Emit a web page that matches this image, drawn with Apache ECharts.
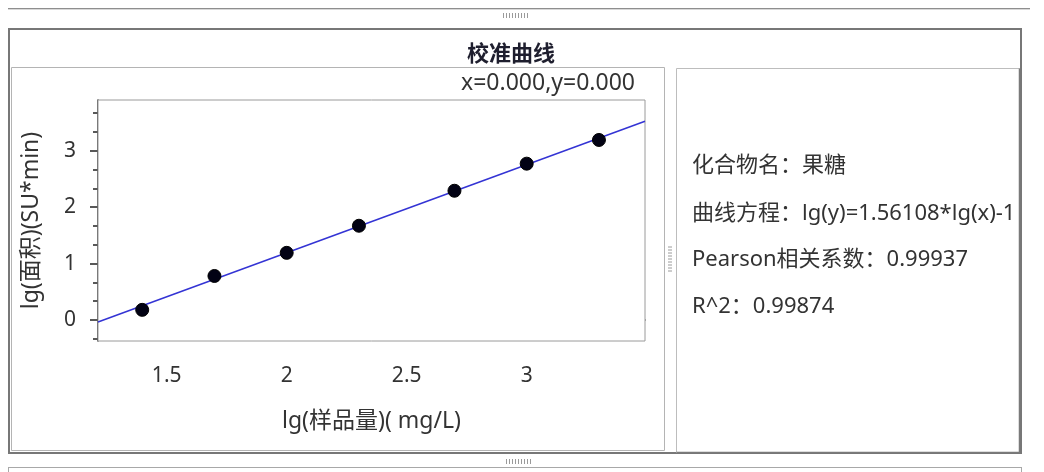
<!DOCTYPE html>
<html>
<head>
<meta charset="utf-8">
<script src="https://cdn.jsdelivr.net/npm/echarts@6/dist/echarts.min.js"></script>
<style>
  html, body { margin: 0; padding: 0; background: #ffffff; }
  #main { width: 1044px; height: 472px; }
</style>
</head>
<body>
<div id="main"></div>
<script>
// Calibration data: lg(sample amount) vs lg(peak area)
const lgAmount = [1.398, 1.699, 2.0, 2.301, 2.699, 3.0, 3.301];
const lgArea   = [0.18, 0.78, 1.19, 1.67, 2.29, 2.77, 3.19];

// Fitted line lg(y) = slope * lg(x) + intercept
const slope = 1.56108;
const intercept = -1.93;

// Axis extents and tick positions
const xRange = [1.2138, 3.4929];
const yRange = [-0.372, 3.898];
const xMajorTicks = [1.5, 2, 2.5, 3];
const xMinorTicks = [1.3, 1.4, 1.6, 1.7, 1.8, 1.9, 2.1, 2.2, 2.3, 2.4, 2.6, 2.7, 2.8, 2.9, 3.1, 3.2, 3.3, 3.4];
const yMajorTicks = [0, 1, 2, 3];
const yMinorTicks = [-1/3, 1/3, 2/3, 4/3, 5/3, 7/3, 8/3, 10/3, 11/3];

// Texts
const chartTitle = '校准曲线';
const cursorText = 'x=0.000,y=0.000';
const xAxisName = 'lg(样品量)( mg/L)';
const yAxisName = 'lg(面积)(SU*min)';
const infoLines = [
  '化合物名：果糖',
  '曲线方程：lg(y)=1.56108*lg(x)-1',
  'Pearson相关系数：0.99937',
  'R^2：0.99874'
];

const FONT = '"Noto Sans", "Noto Sans CJK SC", sans-serif';
const TEXT_COLOR = '#333333';

const points = lgAmount.map((x, i) => [x, lgArea[i]]);
const fitLine = xRange.map(x => [x, slope * x + intercept]);

// Small dotted splitter grip
function grip(x, y, n, vertical) {
  const items = [];
  for (let i = 0; i < n; i++) {
    items.push({
      type: 'line',
      silent: true,
      shape: vertical
        ? { x1: x, y1: y + i * 3, x2: x + 4, y2: y + i * 3 }
        : { x1: x + i * 3, y1: y, x2: x + i * 3, y2: y + 5 },
      style: { stroke: '#9a9a9a', lineWidth: 1 }
    });
  }
  return items;
}

const frame = [
  // top splitter line
  { type: 'line', shape: { x1: 8, y1: 8.5, x2: 1030, y2: 8.5 }, style: { stroke: '#8e8e8e', lineWidth: 1 } },
  { type: 'line', shape: { x1: 8, y1: 9.5, x2: 1030, y2: 9.5 }, style: { stroke: '#d8d8d8', lineWidth: 1 } },
  ...grip(503.5, 13, 9, false),
  // outer group box
  { type: 'rect', shape: { x: 9, y: 29, width: 1012, height: 424 }, style: { fill: '#ffffff', stroke: '#777777', lineWidth: 2 } },
  // chart panel
  { type: 'rect', shape: { x: 11.5, y: 67.5, width: 653, height: 383 }, style: { fill: 'none', stroke: '#b4b4b4', lineWidth: 1 } },
  // info panel
  { type: 'rect', shape: { x: 676.5, y: 68.5, width: 343, height: 384 }, style: { fill: '#ffffff', stroke: '#bdbdbd', lineWidth: 1 } },
  { type: 'polyline', shape: { points: [[1019.5, 68.5], [1019.5, 452.5], [676.5, 452.5]] }, style: { fill: 'none', stroke: '#7a7a7a', lineWidth: 1.5 } },
  ...grip(668, 247, 9, true),
  // bottom splitter
  ...grip(506.5, 459, 9, false),
  { type: 'line', shape: { x1: 8, y1: 467.5, x2: 1022, y2: 467.5 }, style: { stroke: '#a8a8a8', lineWidth: 1 } },
  { type: 'line', shape: { x1: 8.5, y1: 467.5, x2: 8.5, y2: 472 }, style: { stroke: '#a8a8a8', lineWidth: 1 } },
  { type: 'line', shape: { x1: 1021.5, y1: 467.5, x2: 1021.5, y2: 472 }, style: { stroke: '#a8a8a8', lineWidth: 1 } },
  // title and cursor readout
  { type: 'text', x: 511, y: 55, style: { text: chartTitle, fontFamily: FONT, fontSize: 22, fontWeight: 'bold', fill: '#1e1e2e', align: 'center', verticalAlign: 'middle' } },
  { type: 'text', x: 635, y: 83, style: { text: cursorText, fontFamily: FONT, fontSize: 23, fill: TEXT_COLOR, align: 'right', verticalAlign: 'middle' } }
];

const infoTop = [166, 214, 260, 307];
infoLines.forEach((t, i) => {
  frame.push({
    type: 'text', x: 692, y: infoTop[i],
    style: { text: t, fontFamily: FONT, fontSize: 22, fill: TEXT_COLOR, align: 'left', verticalAlign: 'middle' }
  });
});

const axisLineStyle = { color: '#222222', width: 1.5 };

const option = {
  animation: false,
  backgroundColor: '#ffffff',
  grid: {
    left: 98, top: 100, width: 547, height: 241,
    show: true, borderColor: '#9a9a9a', borderWidth: 1, backgroundColor: '#ffffff', z: 1
  },
  xAxis: [
    {
      type: 'value', min: xRange[0], max: xRange[1], position: 'bottom',
      axisLine: { show: true, lineStyle: axisLineStyle },
      axisTick: { show: true, length: 8, customValues: xMajorTicks, lineStyle: axisLineStyle },
      axisLabel: { customValues: xMajorTicks, fontFamily: FONT, fontSize: 21, color: TEXT_COLOR, margin: 25 },
      splitLine: { show: false },
      name: xAxisName, nameLocation: 'middle', nameGap: 69,
      nameTextStyle: { fontFamily: FONT, fontSize: 23, color: TEXT_COLOR }
    },
    {
      type: 'value', min: xRange[0], max: xRange[1], position: 'bottom',
      axisLine: { show: false },
      axisTick: { show: true, length: 5, customValues: xMinorTicks, lineStyle: axisLineStyle },
      axisLabel: { show: false },
      splitLine: { show: false }
    }
  ],
  yAxis: [
    {
      type: 'value', min: yRange[0], max: yRange[1], position: 'left',
      axisLine: { show: true, lineStyle: axisLineStyle },
      axisTick: { show: true, length: 8, customValues: yMajorTicks, lineStyle: axisLineStyle },
      axisLabel: { customValues: yMajorTicks, fontFamily: FONT, fontSize: 21, color: TEXT_COLOR, margin: 22 },
      splitLine: { show: false },
      name: yAxisName, nameLocation: 'middle', nameGap: 55,
      nameTextStyle: { fontFamily: FONT, fontSize: 23, color: TEXT_COLOR }
    },
    {
      type: 'value', min: yRange[0], max: yRange[1], position: 'left',
      axisLine: { show: false },
      axisTick: { show: true, length: 5, customValues: yMinorTicks, lineStyle: axisLineStyle },
      axisLabel: { show: false },
      splitLine: { show: false }
    }
  ],
  series: [
    {
      name: 'fit', type: 'line', xAxisIndex: 0, yAxisIndex: 0,
      data: fitLine, showSymbol: false, symbol: 'none',
      lineStyle: { color: '#3434d4', width: 1.5 }, z: 3, silent: true
    },
    {
      name: 'standards', type: 'scatter', xAxisIndex: 0, yAxisIndex: 0,
      data: points, symbol: 'circle', symbolSize: 13,
      itemStyle: { color: '#020214', opacity: 1, borderColor: '#000000', borderWidth: 1 }, z: 4
    }
  ],
  graphic: { elements: frame.map(e => Object.assign({ z: e.type === 'text' ? 10 : -10, silent: true }, e)) }
};

const chart = echarts.init(document.getElementById('main'), null, { renderer: 'canvas' });
chart.setOption(option);
</script>
</body>
</html>
